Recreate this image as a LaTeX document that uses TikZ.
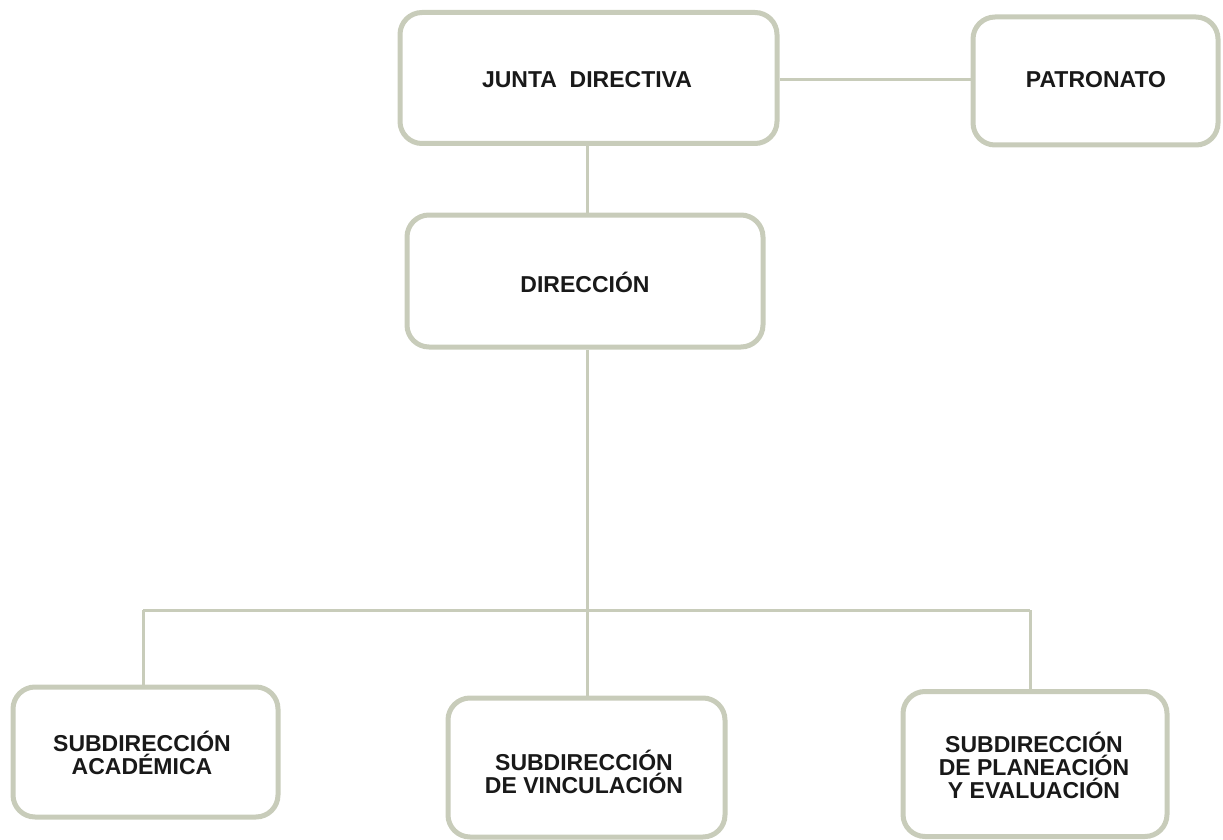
\documentclass[tikz,border=0pt]{standalone}
\usepackage{fontspec}
\setmainfont{Liberation Sans}
\definecolor{boxline}{RGB}{200,204,186}
\tikzset{
  orgbox/.style={draw=boxline, line width=5pt, rounded corners=22pt, fill=white,
    inner sep=0pt},
  orgtext/.style={inner sep=0pt, align=center,
    font=\fontsize{23}{23}\selectfont\bfseries, text=black!90},
  conn/.style={draw=boxline, line width=3pt}
}
\begin{document}
\begin{tikzpicture}[x=1pt,y=-1pt]
\useasboundingbox (0,0) rectangle (1223,840);
\coordinate (busL) at (143,610);
\coordinate (busM) at (587,610);
\coordinate (busR) at (1030,610);
\node[orgbox, minimum width=377pt, minimum height=131pt] (junta) at (588.5,78) {};
\node[orgbox, minimum width=245pt, minimum height=128pt] (patro) at (1095.5,81) {};
\node[orgbox, minimum width=356pt, minimum height=132pt] (dir) at (585,281) {};
\node[orgbox, minimum width=265pt, minimum height=130pt] (acad) at (145.5,752) {};
\node[orgbox, minimum width=277pt, minimum height=139pt] (vinc) at (586.5,767.5) {};
\node[orgbox, minimum width=264pt, minimum height=145pt] (plan) at (1035,764) {};
\draw[conn] (junta.east |- 0,80) -- (patro.west |- 0,80);
\draw[conn] (junta.south -| busM) -- (dir.north -| busM);
\draw[conn] (dir.south -| busM) -- (busM);
\draw[conn] (busL) -- (busR);
\draw[conn] (busL) -- (acad.north -| busL);
\draw[conn] (busM) -- (vinc.north -| busM);
\draw[conn] (busR) -- (plan.north -| busR);
\node[orgtext] (tjunta) at (587,80) {JUNTA\ \ DIRECTIVA};
\node[orgtext] (tpatro) at (1096,80) {PATRONATO};
\node[orgtext] (tdir) at (585,282) {DIRECCIÓN};
\node[orgtext] (tacad) at (142,753) {SUBDIRECCIÓN\\ACADÉMICA};
\node[orgtext] (tvinc) at (584,772) {SUBDIRECCIÓN\\DE VINCULACIÓN};
\node[orgtext] (tplan) at (1034,765) {SUBDIRECCIÓN\\DE PLANEACIÓN\\Y EVALUACIÓN};
\end{tikzpicture}
\end{document}
